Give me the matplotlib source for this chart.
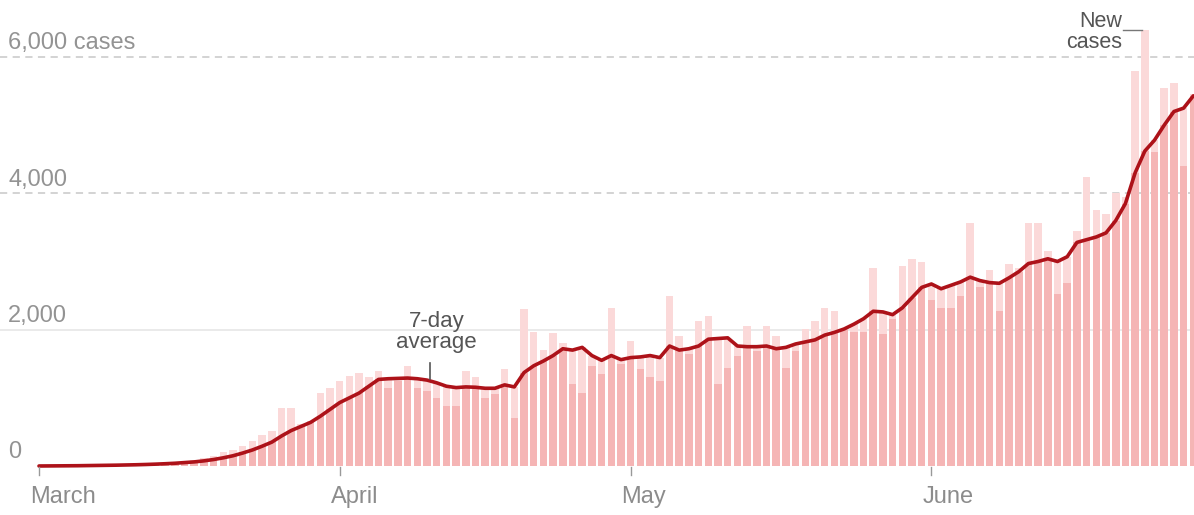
import matplotlib.pyplot as plt
import numpy as np

# daily new cases, March 1 -> June 28
new_cases = [
    2, 3, 5, 4, 8, 10, 12, 15, 20, 25,
    30, 35, 40, 50, 60, 75, 90, 110, 150, 200,
    230, 300, 370, 450, 510, 850, 850, 620, 660, 1070,
    1140, 1250, 1320, 1370, 1300, 1400, 1150, 1250, 1470, 1150,
    1100, 1000, 880, 880, 1400, 1300, 1000, 1060, 1420, 700,
    2300, 1960, 1700, 1950, 1800, 1200, 1070, 1470, 1350, 2320,
    1500, 1840, 1430, 1300, 1250, 2500, 1910, 1650, 2130, 2200,
    1200, 1440, 1620, 2060, 1690, 2060, 1910, 1440, 1690, 2010,
    2130, 2320, 2280, 1990, 1960, 1960, 2900, 1940, 2160, 2940,
    3040, 2990, 2430, 2320, 2320, 2500, 3570, 2620, 2870, 2280,
    2970, 2900, 3560, 3560, 3150, 2530, 2680, 3450, 4240, 3750,
    3700, 4000, 3940, 5800, 6400, 4600, 5540, 5620, 4400, 5450,
]

# 7-day average line
avg_7day = [
    0, 1, 2, 3, 4, 6, 8, 10, 12, 15,
    18, 22, 27, 33, 40, 50, 60, 75, 95, 120,
    150, 190, 235, 290, 350, 440, 520, 580, 640, 730,
    830, 930, 1000, 1070, 1170, 1270, 1280, 1285, 1290, 1280,
    1260, 1220, 1170, 1150, 1160, 1155, 1140, 1140, 1190, 1160,
    1370, 1470, 1540, 1620, 1720, 1700, 1740, 1620, 1550, 1620,
    1560, 1590, 1600, 1620, 1590, 1760, 1700, 1720, 1760, 1860,
    1870, 1880, 1760, 1750, 1750, 1760, 1720, 1740, 1790, 1820,
    1850, 1920, 1960, 2010, 2080, 2160, 2270, 2260, 2220, 2320,
    2470, 2620, 2670, 2600, 2650, 2700, 2770, 2720, 2690, 2680,
    2760, 2850, 2970, 3000, 3040, 3000, 3070, 3280, 3320, 3360,
    3420, 3600, 3850, 4300, 4620, 4780, 5000, 5200, 5250, 5430,
]

month_names = ['March', 'April', 'May', 'June']
month_starts = [0, 31, 61, 92]
grid_values = [0, 2000, 4000, 6000]
grid_labels = ['0', '2,000', '4,000', '6,000 cases']

days = np.arange(len(new_cases))
cases = np.array(new_cases)
avg = np.array(avg_7day)

plt.rcParams['font.family'] = ['Liberation Sans', 'DejaVu Sans']

fig = plt.figure(figsize=(11.94, 5.15), dpi=100)
ax = fig.add_axes([0, 0, 1, 1])
ax.set_xlim(-4.02, 119.07)
ax.set_ylim(-719, 6836)
ax.axis('off')

# gridlines + labels
ytr = ax.get_yaxis_transform()
for v, lab in zip(grid_values, grid_labels):
    if v == 6000 or v == 4000:
        ax.axhline(v, color='#d0d0d0', lw=1.3, ls=(0, (4, 3)), zorder=0)
    elif v == 2000:
        ax.axhline(v, color='#e6e6e6', lw=1.2, zorder=0)
    ax.text(0.007, v + 110, lab, transform=ytr, ha='left', va='baseline',
            fontsize=17, color='#939393')

# bars: light part above the average line, stronger part below
ax.bar(days, np.maximum(cases, avg), width=0.78, color='#fbd9d9', zorder=1)
ax.bar(days, np.minimum(cases, avg), width=0.78, color='#f5b5b5', zorder=2)

# 7-day average
ax.plot(days, avg, color='#ad1219', lw=2.6, zorder=3, solid_capstyle='round')

# month labels and ticks
for m, name in zip(month_starts, month_names):
    ax.plot([m, m], [-20, -130], color='#999999', lw=1, zorder=3)
    ax.text(m - 0.95, -455, name, ha='left', va='center', fontsize=17,
            color='#8c8c8c')

# annotations
ax.text(41.0, 2270, '7-day\naverage', ha='center', va='top', fontsize=16,
        color='#555555', linespacing=1.0)
ax.plot([40.3, 40.3], [1510, 1280], color='#555555', lw=1.2, zorder=4)

ax.text(111.7, 6680, 'New\ncases', ha='right', va='top', fontsize=15.5,
        color='#555555', linespacing=1.05, multialignment='right')
ax.plot([111.8, 113.7], [6395, 6395], color='#777777', lw=1, zorder=4)

fig.savefig('out.png', dpi=100)
